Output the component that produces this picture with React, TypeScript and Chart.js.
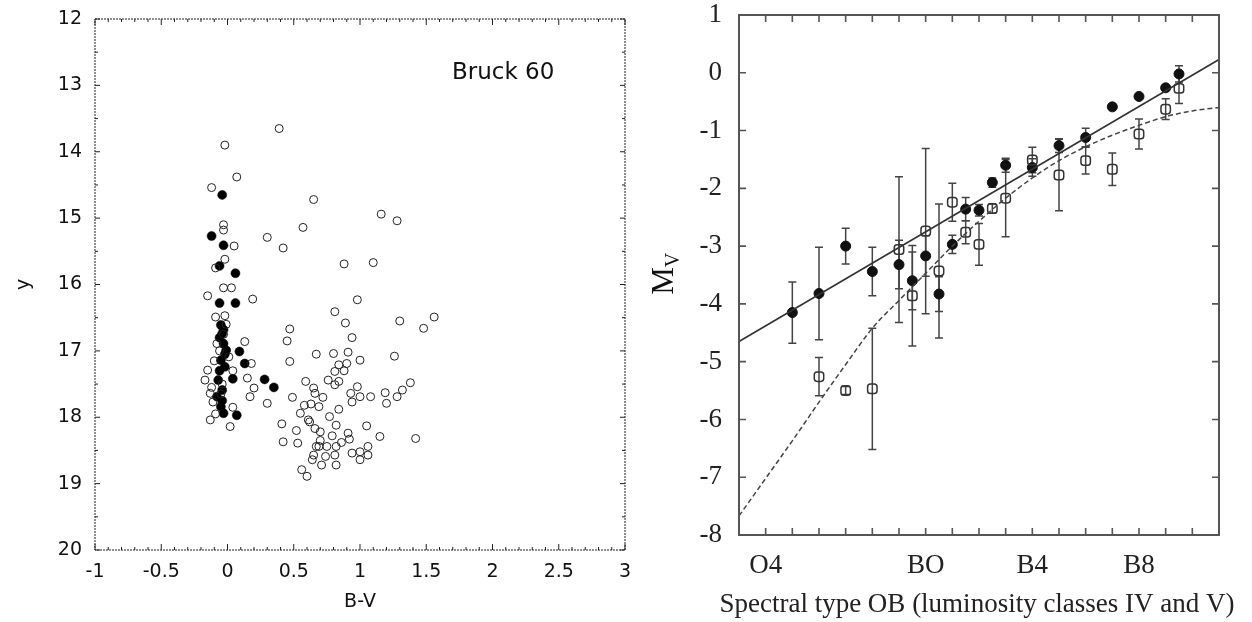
import React, { useEffect, useRef } from 'react';
import { Chart, registerables } from 'chart.js';
Chart.register(...registerables);

// ---------- Left chart: colour-magnitude diagram (Bruck 60) ----------
const cmdOpenBV = [
  0.39, -0.02, 0.07, -0.12, 0.65, 1.16, 1.28, 0.57, -0.03, -0.03, 0.30, 0.42, 0.05, -0.02, -0.09, 0.88, 1.10, -0.03, 0.03, -0.15, 0.19, 0.98,
  -0.09, -0.02, -0.08, -0.03, 0.01, -0.15, -0.17, -0.13, -0.11, -0.13, 0.02, 0.13, 0.18, 0.15, 0.20, 0.17, 0.30, 0.04, -0.06, -0.12, -0.05, -0.09, 0.04, -0.01, -0.10, -0.04,
  0.81, 0.89, 0.47, 0.45, 0.94, 1.30, 1.48, 1.56, 0.67, 0.80, 0.91, 1.00, 1.26, 0.47, 0.84, 0.90, 0.81, 0.76, 0.84, 0.59, 0.65, 0.66, 0.81, 0.98, 0.93, 0.94, 1.00, 1.08, 1.19, 1.20, 1.28, 1.32, 1.38,
  0.49, 0.63, 0.69, 0.84, 0.55, 0.41, 0.52, 0.61, 0.66, 0.77, 0.82, 0.70, 0.79, 0.91, 1.05, 1.15, 1.42, 0.42, 0.53, 0.67, 0.69, 0.75, 0.82, 0.65, 0.74, 0.81, 0.71, 0.82, 0.64, 0.56, 0.60,
  0.94, 1.00, 1.06, 1.00, 1.06, 0.62, 0.58, 0.72, 0.88, 0.70, 0.86, 0.92
];
const cmdOpenY = [
  13.65, 13.90, 14.38, 14.54, 14.72, 14.94, 15.04, 15.14, 15.10, 15.18, 15.29, 15.45, 15.42, 15.62, 15.75, 15.69, 15.67, 16.05, 16.05, 16.17, 16.22, 16.23,
  16.49, 16.47, 16.89, 16.75, 17.09, 17.29, 17.44, 17.64, 17.77, 18.04, 18.14, 16.86, 17.19, 17.41, 17.56, 17.69, 17.79, 17.30, 17.00, 17.55, 17.65, 17.95, 17.85, 16.60, 17.15, 17.50,
  16.41, 16.58, 16.67, 16.85, 16.80, 16.55, 16.66, 16.49, 17.05, 17.04, 17.02, 17.14, 17.08, 17.16, 17.21, 17.19, 17.31, 17.44, 17.46, 17.46, 17.56, 17.64, 17.51, 17.54, 17.64, 17.77, 17.69, 17.69, 17.63, 17.79, 17.69, 17.59, 17.48,
  17.70, 17.80, 17.84, 17.88, 17.94, 18.10, 18.20, 18.04, 18.17, 17.99, 18.12, 18.22, 18.28, 18.24, 18.13, 18.29, 18.32, 18.37, 18.39, 18.44, 18.44, 18.44, 18.44, 18.57, 18.59, 18.57, 18.72, 18.72, 18.64, 18.79, 18.89,
  18.54, 18.52, 18.44, 18.64, 18.57, 18.07, 17.82, 17.70, 17.30, 18.35, 18.38, 18.33
];
const cmdFilledBV = [
  -0.04, -0.12, -0.03, -0.06, 0.06, -0.06, 0.06, -0.05, -0.04, -0.03, -0.05, -0.07, -0.08, -0.05, -0.03, 0.07, 0.09, 0.13, 0.04, -0.01, -0.02, -0.04, 0.28, 0.35, -0.06, -0.02, -0.06, -0.04, -0.03
];
const cmdFilledY = [
  14.65, 15.27, 15.41, 15.72, 15.83, 16.28, 16.28, 16.61, 16.74, 16.89, 17.14, 17.44, 17.69, 17.84, 17.94, 17.97, 17.01, 17.19, 17.42, 16.99, 17.24, 17.59, 17.43, 17.55, 16.80, 17.05, 17.30, 17.75, 16.68
];
const cmdXTicks = [-1, -0.5, 0, 0.5, 1, 1.5, 2, 2.5, 3];
const cmdXTickLabels = ['-1', '-0.5', '0', '0.5', '1', '1.5', '2', '2.5', '3'];
const cmdYTicks = [12, 13, 14, 15, 16, 17, 18, 19, 20];
const cmdTitleText = 'Bruck 60';

// ---------- Right chart: M_V vs spectral type ----------
const spFilledX = [2, 3, 4, 5, 6, 6.5, 7, 7.5, 8, 8.5, 9, 9.5, 10, 11, 12, 13, 14, 15, 16, 16.5];
const spFilledMv = [-4.15, -3.82, -3.0, -3.44, -3.32, -3.6, -3.17, -3.83, -2.97, -2.36, -2.38, -1.9, -1.6, -1.64, -1.26, -1.12, -0.59, -0.41, -0.26, -0.02];
const spFilledErr = [0.53, 0.8, 0.31, 0.42, 0.42, 0.5, 0.35, 0.3, 0.16, 0.2, 0.1, 0.08, 0.12, 0.15, 0.12, 0.16, 0, 0, 0, 0.14];
const spOpenX = [3, 4, 5, 6, 6.5, 7, 7.5, 8, 8.5, 9, 9.5, 10, 11, 12, 13, 14, 15, 16, 16.5];
const spOpenMv = [-5.26, -5.5, -5.47, -3.06, -3.86, -2.74, -3.43, -2.24, -2.76, -2.97, -2.35, -2.17, -1.51, -1.77, -1.52, -1.67, -1.06, -0.63, -0.27];
const spOpenErr = [0.33, 0.07, 1.05, 1.26, 0.87, 1.43, 1.16, 0.33, 0.2, 0.36, 0.08, 0.67, 0.22, 0.62, 0.23, 0.28, 0.26, 0.18, 0.26];
const fitLineX = [0, 18];
const fitLineMv = [-4.65, 0.23];
const curveX = [0, 1, 2, 3, 4, 5, 6, 7, 8, 9, 10, 11, 12, 13, 14, 15, 16, 17, 18];
const curveMv = [-7.67, -7.02, -6.37, -5.7, -5.05, -4.42, -3.94, -3.47, -3.0, -2.57, -2.17, -1.82, -1.52, -1.28, -1.08, -0.91, -0.76, -0.66, -0.6];
const spTickPos = [1, 7, 11, 15];
const spTickLabels = ['O4', 'BO', 'B4', 'B8'];
const mvTicks = [1, 0, -1, -2, -3, -4, -5, -6, -7, -8];
const spXTitle = 'Spectral type OB (luminosity classes IV and V)';

const SANS = '"DejaVu Sans", "Liberation Sans", sans-serif';
const SERIF = '"Liberation Serif", "Times New Roman", serif';

type TickSpec = { v: number; len: number };

function frameTicksPlugin(o: {
  color: string; width: number; dash: number[]; tickWidth: number;
  xTicks: TickSpec[]; yTicks: TickSpec[];
}) {
  return {
    id: 'frameTicks',
    afterDraw(chart: any) {
      const { ctx, chartArea: a, scales } = chart;
      ctx.save();
      ctx.strokeStyle = o.color;
      ctx.lineWidth = o.width;
      ctx.setLineDash(o.dash);
      ctx.strokeRect(a.left, a.top, a.right - a.left, a.bottom - a.top);
      ctx.setLineDash([]);
      ctx.lineWidth = o.tickWidth;
      ctx.beginPath();
      for (const t of o.xTicks) {
        const p = scales.x.getPixelForValue(t.v);
        ctx.moveTo(p, a.bottom); ctx.lineTo(p, a.bottom - t.len);
        ctx.moveTo(p, a.top); ctx.lineTo(p, a.top + t.len);
      }
      for (const t of o.yTicks) {
        const p = scales.y.getPixelForValue(t.v);
        ctx.moveTo(a.left, p); ctx.lineTo(a.left + t.len, p);
        ctx.moveTo(a.right, p); ctx.lineTo(a.right - t.len, p);
      }
      ctx.stroke();
      ctx.restore();
    },
  };
}

const errorBarsPlugin = {
  id: 'errorBars',
  beforeDatasetsDraw(chart: any) {
    const { ctx, scales } = chart;
    ctx.save();
    ctx.strokeStyle = '#444';
    ctx.lineWidth = 1.5;
    chart.data.datasets.forEach((ds: any) => {
      if (!ds.errors) return;
      ds.data.forEach((pt: any, i: number) => {
        const e = ds.errors[i];
        if (!e) return;
        const x = scales.x.getPixelForValue(pt.x);
        const y1 = scales.y.getPixelForValue(pt.y + e);
        const y2 = scales.y.getPixelForValue(pt.y - e);
        ctx.beginPath();
        ctx.moveTo(x, y1); ctx.lineTo(x, y2);
        ctx.moveTo(x - 4, y1); ctx.lineTo(x + 4, y1);
        ctx.moveTo(x - 4, y2); ctx.lineTo(x + 4, y2);
        ctx.stroke();
      });
    });
    ctx.restore();
  },
};

const axisTitlesPlugin = {
  id: 'axisTitles',
  afterDraw(chart: any) {
    const { ctx, chartArea: a } = chart;
    // y-axis title M_V (rotated, with subscript)
    const cy = (a.top + a.bottom) / 2;
    ctx.save();
    ctx.translate(18, cy);
    ctx.rotate(-Math.PI / 2);
    ctx.fillStyle = '#111';
    ctx.textBaseline = 'alphabetic';
    ctx.textAlign = 'left';
    ctx.font = `31px ${SERIF}`;
    const mW = ctx.measureText('M').width;
    ctx.fillText('M', -mW / 2 - 6, 10);
    ctx.font = `20px ${SERIF}`;
    ctx.fillText('V', mW / 2 - 6, 16);
    ctx.restore();
    // x-axis title (not squeezed to the axis width)
    ctx.save();
    ctx.fillStyle = '#222';
    ctx.font = `27px ${SERIF}`;
    ctx.textAlign = 'center';
    ctx.textBaseline = 'middle';
    ctx.fillText(spXTitle, (a.left + a.right) / 2 - 2, a.bottom + 70);
    ctx.restore();
  },
};

const cmdLabelPlugin = {
  id: 'cmdLabel',
  afterDraw(chart: any) {
    const { ctx, chartArea: a } = chart;
    ctx.save();
    ctx.fillStyle = '#111';
    ctx.font = `23px "DejaVu Sans", sans-serif`;
    ctx.textAlign = 'left';
    ctx.textBaseline = 'alphabetic';
    ctx.fillText(cmdTitleText, a.left + 357, a.top + 60);
    ctx.restore();
  },
};

function range(a: number, b: number, step: number) {
  const r: number[] = [];
  for (let v = a; v <= b + 1e-9; v += step) r.push(Math.round(v * 1000) / 1000);
  return r;
}

const noPadV = (w: number) => (s: any) => { s.width = w; s.paddingTop = 0; s.paddingBottom = 0; };
const noPadH = (h: number) => (s: any) => { s.height = h; s.paddingLeft = 0; s.paddingRight = 0; };

export default function App() {
  const leftRef = useRef<HTMLCanvasElement>(null);
  const rightRef = useRef<HTMLCanvasElement>(null);

  useEffect(() => {
    document.body.style.margin = '0';
    const lxTicks: TickSpec[] = range(-1, 3, 0.1).map((v) => ({ v, len: Math.abs(v * 2 - Math.round(v * 2)) < 1e-6 ? 6 : 3 }));
    const lyTicks: TickSpec[] = range(12, 20, 0.5).map((v) => ({ v, len: Number.isInteger(v) ? 5 : 3 }));
    const left = new Chart(leftRef.current!, {
      type: 'scatter',
      data: {
        datasets: [
          {
            label: 'open',
            data: cmdOpenBV.map((x, i) => ({ x, y: cmdOpenY[i] })),
            pointStyle: 'circle',
            pointRadius: 4,
            pointBorderWidth: 1,
            borderColor: '#222',
            backgroundColor: 'rgba(255,255,255,0)',
          },
          {
            label: 'filled',
            data: cmdFilledBV.map((x, i) => ({ x, y: cmdFilledY[i] })),
            pointStyle: 'circle',
            pointRadius: 4.5,
            pointBorderWidth: 0.5,
            borderColor: '#000',
            backgroundColor: '#000',
          },
        ],
      },
      options: {
        animation: false,
        responsive: false,
        devicePixelRatio: 1,
        layout: { padding: { top: 19, right: 20, left: 0, bottom: 0 } },
        plugins: { legend: { display: false }, tooltip: { enabled: false } },
        scales: {
          x: {
            type: 'linear', min: -1, max: 3,
            afterBuildTicks: (s: any) => { s.ticks = cmdXTicks.map((value) => ({ value })); },
            afterFit: noPadH(72),
            grid: { display: false, drawTicks: false }, border: { display: false },
            ticks: {
              font: { family: SANS, size: 19 }, color: '#111', padding: 11, maxRotation: 0, autoSkip: false,
              callback: (v: any) => { const i = cmdXTicks.indexOf(Number(v)); return i >= 0 ? cmdXTickLabels[i] : ''; },
            },
            title: { display: true, text: 'B-V', font: { family: SANS, size: 19, lineHeight: 1 }, color: '#111', padding: { top: 0, bottom: 10 } },
          },
          y: {
            type: 'linear', min: 12, max: 20, reverse: true,
            afterBuildTicks: (s: any) => { s.ticks = cmdYTicks.map((value) => ({ value })); },
            afterFit: noPadV(95),
            grid: { display: false, drawTicks: false }, border: { display: false },
            ticks: { font: { family: SANS, size: 19 }, color: '#111', padding: 13 },
            title: { display: true, text: 'y', font: { family: SANS, size: 19, lineHeight: 1 }, color: '#111', padding: { top: 15, bottom: 0 } },
          },
        },
      },
      plugins: [frameTicksPlugin({ color: '#222', width: 1, dash: [2, 1], tickWidth: 1, xTicks: lxTicks, yTicks: lyTicks }), cmdLabelPlugin],
    } as any);

    const rxTicks: TickSpec[] = range(1, 17, 1).map((v) => ({ v, len: 7 }));
    const ryTicks: TickSpec[] = mvTicks.map((v) => ({ v, len: 7 }));
    const right = new Chart(rightRef.current!, {
      type: 'scatter',
      data: {
        datasets: [
          {
            type: 'line',
            label: 'fit',
            data: fitLineX.map((x, i) => ({ x, y: fitLineMv[i] })),
            borderColor: '#333', borderWidth: 1.6, pointRadius: 0, showLine: true, fill: false,
          },
          {
            type: 'line',
            label: 'curve',
            data: curveX.map((x, i) => ({ x, y: curveMv[i] })),
            borderColor: '#444', borderWidth: 1.5, borderDash: [5, 3], pointRadius: 0, showLine: true, fill: false,
            cubicInterpolationMode: 'monotone',
          },
          {
            label: 'open',
            data: spOpenX.map((x, i) => ({ x, y: spOpenMv[i] })),
            errors: spOpenErr,
            pointStyle: 'rectRounded',
            pointRadius: 5.5,
            pointBorderWidth: 1.5,
            borderColor: '#333',
            backgroundColor: 'rgba(255,255,255,0)',
          },
          {
            label: 'filled',
            data: spFilledX.map((x, i) => ({ x, y: spFilledMv[i] })),
            errors: spFilledErr,
            pointStyle: 'circle',
            pointRadius: 5,
            pointBorderWidth: 1,
            borderColor: '#111',
            backgroundColor: '#111',
          },
        ],
      },
      options: {
        animation: false,
        responsive: false,
        devicePixelRatio: 1,
        layout: { padding: { top: 15, right: 33, left: 0, bottom: 0 } },
        plugins: { legend: { display: false }, tooltip: { enabled: false } },
        scales: {
          x: {
            type: 'linear', min: 0, max: 18,
            afterBuildTicks: (s: any) => { s.ticks = spTickPos.map((value) => ({ value })); },
            afterFit: noPadH(87),
            grid: { display: false, drawTicks: false }, border: { display: false },
            ticks: {
              font: { family: SERIF, size: 27 }, color: '#222', padding: 15, maxRotation: 0, autoSkip: false,
              callback: (v: any) => { const i = spTickPos.indexOf(Number(v)); return i >= 0 ? spTickLabels[i] : ''; },
            },
            title: { display: false },
          },
          y: {
            type: 'linear', min: -8, max: 1,
            afterBuildTicks: (s: any) => { s.ticks = mvTicks.map((value) => ({ value })); },
            afterFit: noPadV(94),
            grid: { display: false, drawTicks: false }, border: { display: false },
            ticks: { font: { family: SERIF, size: 27 }, color: '#222', padding: 17 },
          },
        },
      },
      plugins: [errorBarsPlugin, frameTicksPlugin({ color: '#555', width: 2, dash: [], tickWidth: 1.6, xTicks: rxTicks, yTicks: ryTicks }), axisTitlesPlugin],
    } as any);

    return () => { left.destroy(); right.destroy(); };
  }, []);

  return (
    <div style={{ position: 'fixed', left: 0, top: 0, width: 1252, height: 622, background: '#fff', overflow: 'hidden' }}>
      <canvas ref={leftRef} width={645} height={622} style={{ position: 'absolute', left: 0, top: 0, width: 645, height: 622 }} />
      <canvas ref={rightRef} width={607} height={622} style={{ position: 'absolute', left: 645, top: 0, width: 607, height: 622 }} />
    </div>
  );
}
